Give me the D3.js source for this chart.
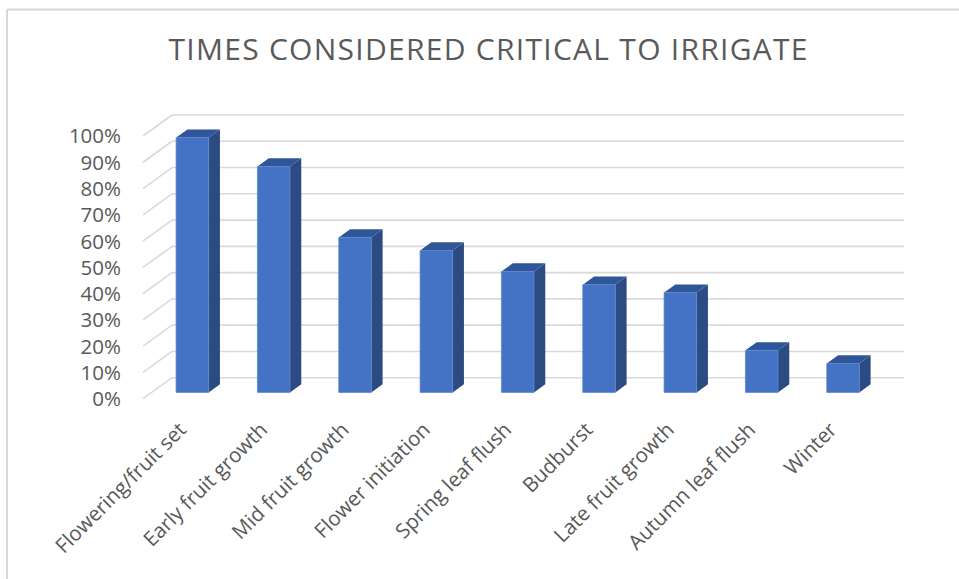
<!DOCTYPE html>
<html>
<head>
<meta charset="utf-8">
<script src="https://cdn.jsdelivr.net/npm/d3@7"></script>
<style>
  html, body { margin: 0; padding: 0; background: #ffffff; }
  svg { display: block; }
</style>
</head>
<body>
<svg id="chart" width="959" height="579"></svg>
<script>
const categories = ["Flowering/fruit set", "Early fruit growth", "Mid fruit growth", "Flower initiation",
  "Spring leaf flush", "Budburst", "Late fruit growth", "Autumn leaf flush", "Winter"];
const values = [0.97, 0.86, 0.59, 0.54, 0.46, 0.41, 0.38, 0.16, 0.11];
const yTicks = [0, 0.1, 0.2, 0.3, 0.4, 0.5, 0.6, 0.7, 0.8, 0.9, 1.0];
const title = "TIMES CONSIDERED CRITICAL TO IRRIGATE";

const svg = d3.select("#chart");
const W = 959, H = 579;
const font = "'Open Sans', 'Liberation Sans', sans-serif";
const textColor = "#595959";

// chart frame (left & top border)
svg.append("line").attr("x1", 7).attr("y1", 9.5).attr("x2", W).attr("y2", 9.5)
  .attr("stroke", "#D9D9D9").attr("stroke-width", 2);
svg.append("line").attr("x1", 7).attr("y1", 9.5).attr("x2", 7).attr("y2", H)
  .attr("stroke", "#D9D9D9").attr("stroke-width", 2);

// oblique 3D projection: back plane scales + depth offset
const x = d3.scaleBand().domain(categories).range([172, 904]).paddingInner(0.6).paddingOuter(0.3);
const y = d3.scaleLinear().domain([0, 1]).range([377.7, 115]);
const DX = -29, DY = 21;           // offset from back (d=0) to front (d=1)
const P = (px, v, d) => [px + DX * d, y(v) + DY * d];
const dFront = 0.70, dBack = 0.31;

// gridlines
const grid = svg.append("g");
yTicks.forEach(t => {
  const [bx0, by] = P(172, t, 0);
  const [fx, fy] = P(172, t, 1);
  grid.append("line").attr("x1", bx0).attr("y1", by).attr("x2", 904).attr("y2", by)
    .attr("stroke", "#D9D9D9").attr("stroke-width", 1.6);
  grid.append("line").attr("x1", fx).attr("y1", fy).attr("x2", bx0).attr("y2", by)
    .attr("stroke", "#D9D9D9").attr("stroke-width", 1.6);
});

// y axis labels
const yFmt = d3.format(".0%");
svg.append("g").selectAll("text").data(yTicks).join("text")
  .attr("x", 121)
  .attr("y", d => P(172, d, 1)[1] + 2)
  .attr("text-anchor", "end")
  .attr("dominant-baseline", "middle")
  .attr("font-family", font).attr("font-size", 20.5).attr("fill", textColor)
  .text(d => yFmt(d));

// bars
const bars = svg.append("g").selectAll("g").data(categories.map((c, i) => ({c, v: values[i]}))).join("g");
const pts = a => a.map(p => p.join(",")).join(" ");
bars.append("polygon") // side
  .attr("points", d => {
    const x1 = x(d.c) + x.bandwidth();
    return pts([P(x1, d.v, dFront), P(x1, d.v, dBack), P(x1, 0, dBack), P(x1, 0, dFront)]);
  })
  .attr("fill", "#2B4B82");
bars.append("polygon") // top
  .attr("points", d => {
    const x0 = x(d.c), x1 = x(d.c) + x.bandwidth();
    return pts([P(x0, d.v, dFront), P(x1, d.v, dFront), P(x1, d.v, dBack), P(x0, d.v, dBack)]);
  })
  .attr("fill", "#30569A");
bars.append("polygon") // front
  .attr("points", d => {
    const x0 = x(d.c), x1 = x(d.c) + x.bandwidth();
    return pts([P(x0, d.v, dFront), P(x1, d.v, dFront), P(x1, 0, dFront), P(x0, 0, dFront)]);
  })
  .attr("fill", "#4472C4")
  .attr("stroke", "#5B86D0").attr("stroke-width", 0.8);

// category labels
svg.append("g").selectAll("text").data(categories).join("text")
  .attr("transform", d => {
    const cx = x(d) + x.bandwidth() / 2 + DX * dFront;
    return `translate(${cx - 5},431) rotate(-45)`;
  })
  .attr("text-anchor", "end")
  .attr("font-family", font).attr("font-size", 20.5).attr("fill", textColor)
  .text(d => d);

// title
svg.append("text")
  .attr("x", 488).attr("y", 60)
  .attr("text-anchor", "middle")
  .attr("font-family", font).attr("font-size", 30).attr("fill", textColor)
  .attr("textLength", 639).attr("lengthAdjust", "spacing")
  .text(title);
</script>
</body>
</html>
